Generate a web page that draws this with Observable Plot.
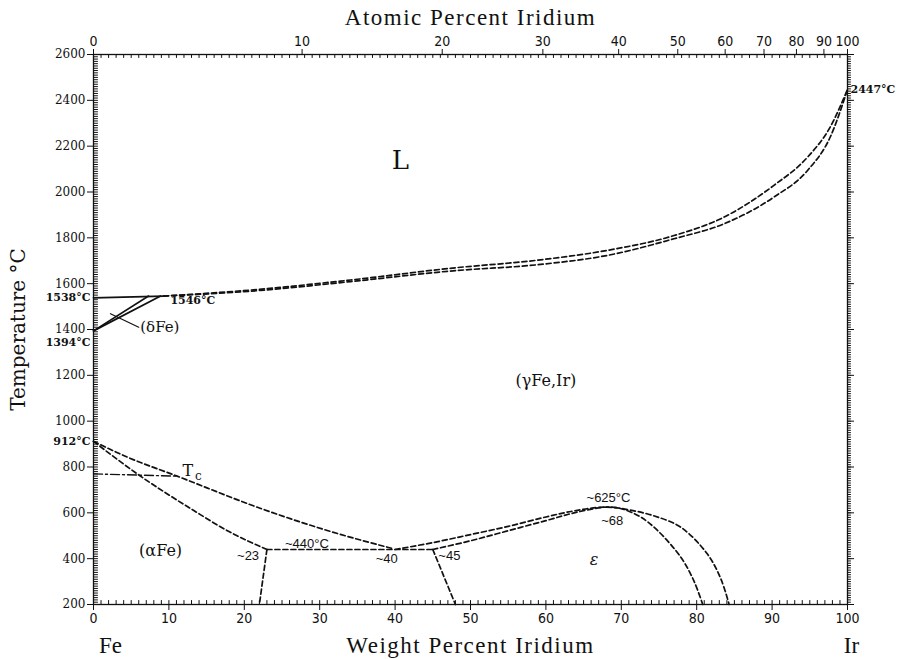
<!DOCTYPE html>
<html><head><meta charset="utf-8">
<script src="https://cdn.jsdelivr.net/npm/d3@7"></script>
<script src="https://cdn.jsdelivr.net/npm/@observablehq/plot@0.6"></script>
<style>body{margin:0;background:#fff}</style>
</head><body><div id="chart"></div>
<script>
// ---- tick labels ----
const wtTicks = [0,10,20,30,40,50,60,70,80,90,100];
const atTicks = [0,10,20,30,40,50,60,70,80,90,100];
const tempTicks = [200,400,600,800,1000,1200,1400,1600,1800,2000,2200,2400,2600];
const wtMinor = d3.range(0,101,1);
const tempMinor = d3.range(200,2601,10);

// ---- phase boundaries [wt% Ir, °C] ----
const liquidus = [[9.3,1546],[20.8,1572],[34.1,1616],[47.3,1667],[59.3,1704],[68.1,1745],[77,1810],[83.6,1890],[90.2,2028],[94.7,2152],[97.7,2283],[100,2447]];
const solidus  = [[9.3,1546],[20.8,1567],[34.1,1609],[47.3,1655],[59.3,1684],[68.1,1723],[77,1796],[83.6,1861],[90.2,1977],[94.7,2094],[97.7,2239],[100,2447]];
const deltaLiquidus = [[0,1538],[9.3,1546]];
const deltaSolvus   = [[0,1394],[7.3,1546]];
const gammaDelta    = [[0,1394],[8.9,1546]];
const deltaLeader   = [[2.25,1469],[6.0,1410]];
const gammaAlpha    = [[0,912],[4.5,843],[11.1,760],[22.1,620],[31,523],[39.8,443]];
const alphaGamma    = [[0,912],[5.8,770],[13.3,610],[17.7,523],[23,440]];
const eutectoid     = [[23,440],[45,440]];
const alphaSolvus   = [[23,440],[22,200]];
const epsSolvusLeft = [[45,440],[48,200]];
const curieLine     = [[0,770],[11.1,760]];
const gammaEps      = [[40,440],[45,470],[50,505],[55,541],[60,582],[64,610],[68,625],[71.2,612],[74.5,585],[77.9,537],[81.4,421],[83.2,312],[84.3,200]];
const epsBoundary   = [[45,440],[50,478],[55,522],[60,566],[64,602],[68,625],[70,618],[72.5,583],[74.8,523],[77.9,406],[79.6,305],[80.8,200]];

// ---- labels ----
const regionLabels = [
  {t:"L", x:40.7, y:2137, s:26},
  {t:"(γFe,Ir)", x:60, y:1177, s:16},
  {t:"(αFe)", x:8.9, y:436, s:16}
];
const smallLabels = [
  {t:"~440°C", x:28.3, y:466, a:"middle"},
  {t:"~23", x:20.5, y:414, a:"middle"},
  {t:"~40", x:38.9, y:400, a:"middle"},
  {t:"~45", x:47.2, y:414, a:"middle"},
  {t:"~625°C", x:68.3, y:667, a:"middle"},
  {t:"~68", x:68.8, y:567, a:"middle"}
];
const boldLabels = [
  {t:"1546°C", x:10.2, y:1527, a:"start"}
];

const atToWt = a => 100*a*192.22/(a*192.22 + (100-a)*55.845);
const atPos = atTicks.map(atToWt);
const atLabel = new Map(atPos.map((p,i)=>[p, atTicks[i]]));

const serif = "'DejaVu Serif',serif";
const sans = "'Liberation Sans',Arial,sans-serif";
const narrow = "'Liberation Sans Narrow','DejaVu Sans Condensed','Arial Narrow',sans-serif";
const titleFont = "'Liberation Serif','Times New Roman',serif";

const ln = (d, o={}) => Plot.line(d, {x:"0", y:"1", stroke:"#111", strokeWidth:1.7, ...o});
const dash = {strokeDasharray:"5,3"};
const tickShape = {draw(ctx, l){ ctx.moveTo(0,0); ctx.lineTo(0,-l); }};
const minorX = (anchor, len, rot) => Plot.vector(wtMinor, {x:d=>d, frameAnchor:anchor, length:len, rotate:rot, anchor:"start", shape:tickShape, stroke:"#111", strokeWidth:1});
const minorY = (anchor, len, rot) => Plot.vector(tempMinor, {y:d=>d, frameAnchor:anchor, length:len, rotate:rot, anchor:"start", shape:tickShape, stroke:"#111", strokeWidth:1});

const chart = Plot.plot({
  width:908, height:659,
  marginLeft:93, marginRight:61, marginTop:54, marginBottom:55,
  x:{domain:[0,100]},
  y:{domain:[200,2600]},
  style:{background:"#fff", color:"#111"},
  marks:[
    Plot.frame({stroke:"#111", strokeWidth:1.3}),
    // bottom axis
    Plot.axisX(wtTicks, {anchor:"bottom", tickSize:6, tickPadding:3, fontSize:14, fontFamily:narrow, tickFormat:d=>String(d), label:null}),
    minorX("bottom", 4, 0),
    // top axis (atomic percent)
    Plot.axisX(atPos, {anchor:"top", tickSize:6, tickPadding:3, fontSize:14, fontFamily:narrow, tickFormat:d=>atLabel.get(d), label:null}),
    minorX("top", 3, 180),
    // left axis
    Plot.axisY(tempTicks, {anchor:"left", tickSize:6, tickPadding:2, fontSize:12, fontFamily:serif, tickFormat:d=>String(d), label:null}),
    minorY("left", 4, 90),
    // right axis
    Plot.axisY(tempTicks, {anchor:"right", tickSize:6, fill:"none", label:null}),
    minorY("right", 3, 90),
    // boundaries
    ln(liquidus, {...dash, curve:"monotone-x"}),
    ln(solidus, {...dash, curve:"monotone-x"}),
    ln(deltaLiquidus),
    ln(deltaSolvus),
    ln(gammaDelta),
    ln(deltaLeader, {strokeWidth:1.2}),
    ln(gammaAlpha, {...dash, curve:"monotone-x"}),
    ln(alphaGamma, {...dash, curve:"monotone-x"}),
    ln(eutectoid, dash),
    ln(alphaSolvus, dash),
    ln(epsSolvusLeft, dash),
    ln(curieLine, {strokeDasharray:"9,3,2,3", strokeWidth:1.4}),
    ln(gammaEps, {...dash, curve:"catmull-rom"}),
    ln(epsBoundary, {...dash, curve:"catmull-rom"}),
    // region labels
    Plot.text(regionLabels, {x:"x", y:"y", text:"t", fontSize:d=>d.s, fontFamily:serif, fill:"#111"}),
    Plot.text(["(δFe)"], {x:6.2, y:1409, textAnchor:"start", fontSize:15, fontFamily:serif, fill:"#111"}),
    Plot.text(["ε"], {x:66.4, y:396, fontSize:16, fontStyle:"italic", fontFamily:serif, fill:"#111"}),
    Plot.text(["T"], {x:12.5, y:785, fontSize:16, fontFamily:serif, fill:"#111"}),
    Plot.text(["c"], {x:13.9, y:759, fontSize:12, fontFamily:serif, fill:"#111"}),
    Plot.text(smallLabels, {x:"x", y:"y", text:"t", textAnchor:"a", fontSize:13, fontFamily:sans, fill:"#111"}),
    Plot.text(boldLabels, {x:"x", y:"y", text:"t", textAnchor:"start", fontSize:11, fontWeight:"bold", fontFamily:serif, fill:"#111"}),
    // edge value labels
    Plot.text(["1538°C"], {x:0, y:1538, dx:-3, textAnchor:"end", fontSize:11, fontWeight:"bold", fontFamily:serif, fill:"#111"}),
    Plot.text(["1394°C"], {x:0, y:1394, dx:-3, dy:12, textAnchor:"end", fontSize:11, fontWeight:"bold", fontFamily:serif, fill:"#111"}),
    Plot.text(["912°C"], {x:0, y:912, dx:-3, textAnchor:"end", fontSize:11, fontWeight:"bold", fontFamily:serif, fill:"#111"}),
    Plot.text(["2447°C"], {x:100, y:2447, dx:3, textAnchor:"start", fontSize:11, fontWeight:"bold", fontFamily:serif, fill:"#111"}),
    // axis titles
    Plot.text(["Atomic Percent Iridium"], {frameAnchor:"top", dy:-37, lineAnchor:"middle", fontSize:23, fontFamily:titleFont, fill:"#111"}),
    Plot.text(["Weight Percent Iridium"], {frameAnchor:"bottom", dy:41, lineAnchor:"middle", fontSize:23, fontFamily:titleFont, fill:"#111"}),
    Plot.text(["Fe"], {frameAnchor:"bottom-left", dx:17, dy:41, lineAnchor:"middle", textAnchor:"middle", fontSize:23, fontFamily:titleFont, fill:"#111"}),
    Plot.text(["Ir"], {frameAnchor:"bottom-right", dx:4, dy:41, lineAnchor:"middle", textAnchor:"middle", fontSize:23, fontFamily:titleFont, fill:"#111"}),
    Plot.text(["Temperature °C"], {frameAnchor:"left", dx:-75, rotate:-90, textAnchor:"middle", fontSize:20, fontFamily:serif, fill:"#111"})
  ]
});
d3.select(chart).selectAll("text")
  .filter(function(){ return /Percent Iridium/.test(this.textContent); })
  .style("letter-spacing","1.5px");
document.getElementById("chart").append(chart);
</script></body></html>
